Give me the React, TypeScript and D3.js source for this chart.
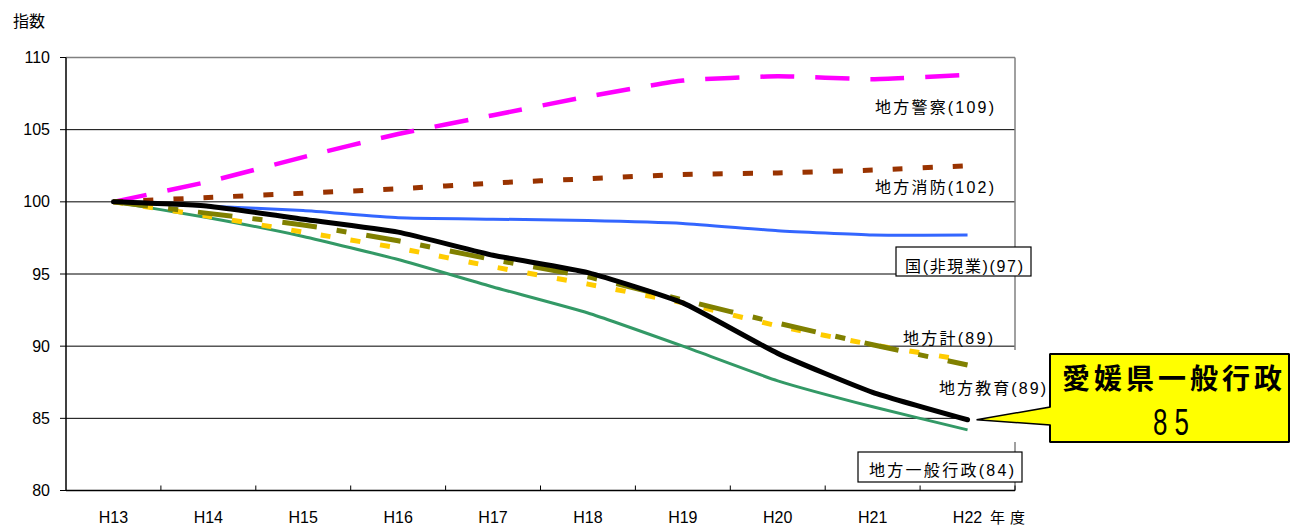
import React from 'react';
import * as d3 from 'd3';

const categories = ['H13', 'H14', 'H15', 'H16', 'H17', 'H18', 'H19', 'H20', 'H21', 'H22'];
const yTicks = [80, 85, 90, 95, 100, 105, 110];

const police = [100, 101.4, 103.1, 104.7, 106.0, 107.3, 108.4, 108.7, 108.5, 108.8];
const fire = [100, 100.3, 100.6, 100.9, 101.3, 101.6, 101.9, 102.0, 102.2, 102.5];
const national = [100, 99.7, 99.4, 98.9, 98.8, 98.7, 98.5, 98.0, 97.7, 97.7];
const localGeneral = [100, 98.9, 97.6, 96.0, 94.1, 92.3, 90.0, 87.6, 85.8, 84.2];
const localTotal = [100, 99.0, 97.9, 96.8, 95.5, 94.3, 93.0, 91.4, 90.1, 89.0];
const localEdu = [100, 99.2, 98.4, 97.3, 96.0, 94.8, 93.2, 91.6, 90.1, 88.7];
const ehime = [100, 99.7, 98.8, 97.9, 96.3, 95.1, 93.0, 89.5, 86.8, 84.9];

const seriesLabels = ['地方警察(109)', '地方消防(102)', '国(非現業)(97)', '地方計(89)', '地方教育(89)', '地方一般行政(84)'];
const calloutTitle = '愛媛県一般行政';
const calloutValue = '8 5';

const FONT = '"Liberation Sans", Arial, "Noto Sans CJK JP", sans-serif';

export default function App() {
  const left = 66, right = 1015, top = 57.5, bottom = 490.5;
  const x = d3.scaleBand<string>().domain(categories).range([left, right]);
  const y = d3.scaleLinear().domain([80, 110]).range([bottom, top]);
  const cx = (c: string) => (x(c) as number) + x.bandwidth() / 2;

  const line = d3
    .line<number>()
    .x((_, i) => cx(categories[i]))
    .y((d) => y(d))
    .curve(d3.curveCardinal.tension(0.55));

  const series = [
    { data: police, color: '#FF00FF', width: 4.5, dash: '34 21', cap: 'butt' },
    { data: fire, color: '#993300', width: 5, dash: '10 20', cap: 'butt' },
    { data: national, color: '#3366FF', width: 3, dash: undefined, cap: 'butt' },
    { data: localGeneral, color: '#339966', width: 3, dash: undefined, cap: 'butt' },
    { data: localTotal, color: '#FFCC00', width: 5, dash: '10 20', cap: 'butt' },
    { data: localEdu, color: '#808000', width: 5, dash: '35 20 10 20', cap: 'butt' },
    { data: ehime, color: '#000000', width: 5, dash: undefined, cap: 'round' },
  ];

  const labelPos = [
    { x: 875, y: 113, w: 119 },
    { x: 875, y: 193, w: 119 },
    { x: 905, y: 272, w: 118, box: [896, 247, 135, 29] },
    { x: 903, y: 344, w: 90 },
    { x: 939, y: 394, w: 107 },
    { x: 869, y: 476, w: 145, box: [858, 452, 164, 30] },
  ];

  const tipX = cx(categories[9]) + 9;
  const tipY = y(ehime[9]);
  const bx0 = 1050, bx1 = 1289, by0 = 354, by1 = 442;
  const callout = `M${tipX},${tipY} L${bx0},407 L${bx0},${by0} L${bx1},${by0} L${bx1},${by1} L${bx0},${by1} L${bx0},425 Z`;

  return (
    <svg
      width={1300}
      height={527}
      style={{ position: 'absolute', left: 0, top: 0, background: '#fff' }}
      fontFamily={FONT}
    >
      <rect x={0} y={0} width={1300} height={527} fill="#fff" />
      {yTicks.filter((t) => t > 80 && t < 110).map((t) => (
        <line key={t} x1={left} x2={right} y1={y(t)} y2={y(t)} stroke="#000" strokeWidth={1} />
      ))}
      <line x1={left} x2={right} y1={y(110)} y2={y(110)} stroke="#808080" strokeWidth={1.5} />
      <line x1={right} x2={right} y1={y(110)} y2={bottom} stroke="#808080" strokeWidth={1.5} />
      <line x1={left} x2={left} y1={y(110)} y2={bottom} stroke="#000" strokeWidth={1.5} />
      {yTicks.map((t) => (
        <g key={t}>
          <line x1={left - 6} x2={left} y1={y(t)} y2={y(t)} stroke="#000" strokeWidth={1} />
          <text x={50} y={y(t) + 5.5} fontSize={16} textAnchor="end" fill="#000">
            {t}
          </text>
        </g>
      ))}
      <line x1={left} x2={right} y1={bottom} y2={bottom} stroke="#000" strokeWidth={1.5} />
      {categories.map((c) => (
        <g key={c}>
          <line
            x1={(x(c) as number) + x.bandwidth()}
            x2={(x(c) as number) + x.bandwidth()}
            y1={bottom}
            y2={bottom - 5}
            stroke="#000"
            strokeWidth={1}
          />
          <text x={cx(c)} y={523} fontSize={16} textAnchor="middle" fill="#000">
            {c}
          </text>
        </g>
      ))}
      <text x={990} y={523} fontSize={15} fill="#000" textLength={35} lengthAdjust="spacing">年度</text>
      <text x={13} y={27} fontSize={16} fill="#000">指数</text>

      <rect x={969} y={350} width={80} height={92} fill="#fff" />

      {series.map((s, i) => (
        <path
          key={i}
          d={line(s.data) as string}
          fill="none"
          stroke={s.color}
          strokeWidth={s.width}
          strokeDasharray={s.dash}
          strokeLinecap={s.cap as any}
          strokeLinejoin="round"
        />
      ))}

      {seriesLabels.map((t, i) => {
        const p = labelPos[i];
        return (
          <g key={t}>
            {p.box && (
              <rect x={p.box[0]} y={p.box[1]} width={p.box[2]} height={p.box[3]} fill="#fff" stroke="#000" strokeWidth={1.2} />
            )}
            <text x={p.x} y={p.y} fontSize={16} fill="#000" textLength={p.w} lengthAdjust="spacing">
              {t}
            </text>
          </g>
        );
      })}

      <path d={callout} fill="#FFFF00" stroke="#000" strokeWidth={1.5} strokeLinejoin="miter" />
      <line x1={bx0} x2={bx0} y1={by0} y2={407} stroke="#000" strokeWidth={2} />
      <line x1={bx0} x2={bx0} y1={425} y2={by1} stroke="#000" strokeWidth={2} />
      <line x1={bx0} x2={bx1} y1={by0} y2={by0} stroke="#000" strokeWidth={2} />
      <line x1={bx0} x2={bx1} y1={by1} y2={by1} stroke="#000" strokeWidth={2} />
      <line x1={bx1} x2={bx1} y1={by0} y2={by1} stroke="#000" strokeWidth={2} />
      <text x={1062} y={389} fontSize={28} fontWeight="bold" fill="#000" textLength={220} lengthAdjust="spacing">
        {calloutTitle}
      </text>
      <text x={1153} y={435} fontSize={37} fill="#000" textLength={36} lengthAdjust="spacingAndGlyphs">
        {calloutValue}
      </text>
    </svg>
  );
}
